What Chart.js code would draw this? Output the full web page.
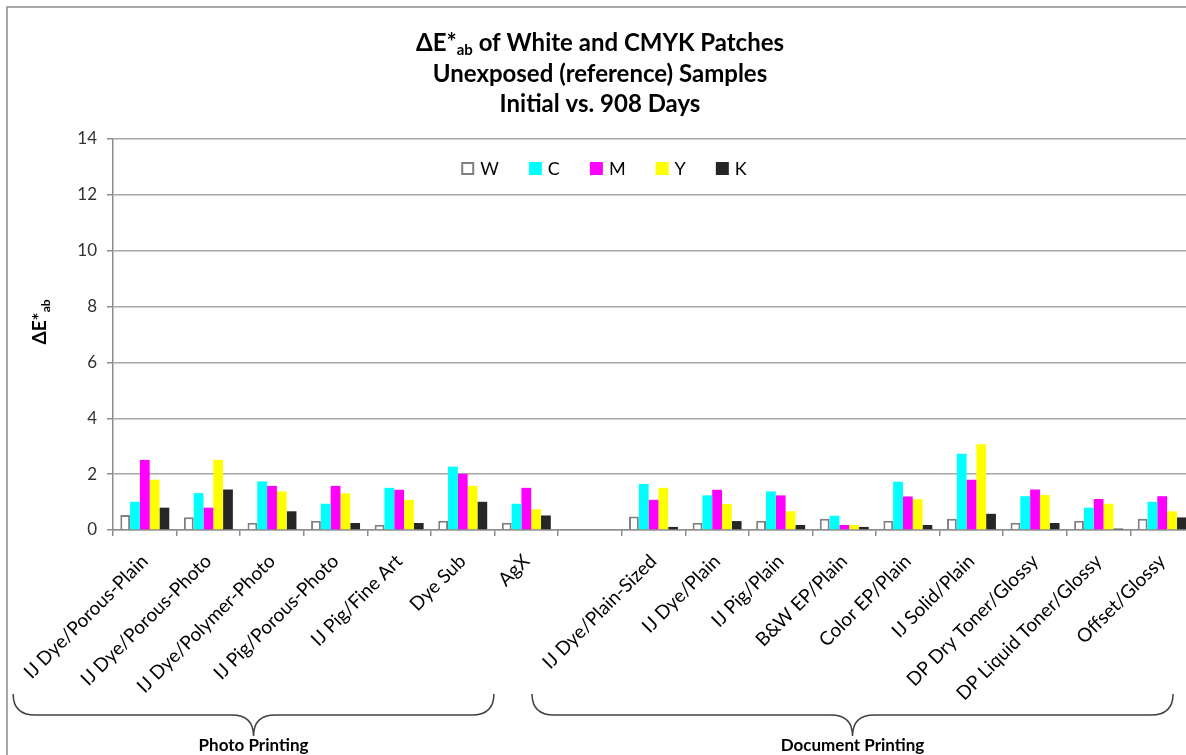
<!DOCTYPE html>
<html>
<head>
<meta charset="utf-8">
<script src="https://cdn.jsdelivr.net/npm/chart.js@4/dist/chart.umd.min.js"></script>
<style>
  html, body { margin: 0; padding: 0; background: #fff; overflow: hidden; }
  #wrap { width: 1200px; height: 755px; }
</style>
</head>
<body>
<div id="wrap"><canvas id="deChart" width="1200" height="755"></canvas></div>
<script>
// categories (empty one is the gap between the two groups)
var categories = ['IJ Dye/Porous-Plain', 'IJ Dye/Porous-Photo', 'IJ Dye/Polymer-Photo', 'IJ Pig/Porous-Photo',
  'IJ Pig/Fine Art', 'Dye Sub', 'AgX', '', 'IJ Dye/Plain-Sized', 'IJ Dye/Plain', 'IJ Pig/Plain',
  'B&W EP/Plain', 'Color EP/Plain', 'IJ Solid/Plain', 'DP Dry Toner/Glossy', 'DP Liquid Toner/Glossy', 'Offset/Glossy'];

var valW = [0.54, 0.46, 0.26, 0.33, 0.19, 0.33, 0.26, null, 0.48, 0.26, 0.33, 0.40, 0.33, 0.40, 0.26, 0.33, 0.40];
var valC = [1.01, 1.32, 1.74, 0.94, 1.51, 2.27, 0.94, null, 1.65, 1.24, 1.38, 0.51, 1.73, 2.73, 1.21, 0.80, 1.01];
var valM = [2.51, 0.80, 1.58, 1.58, 1.44, 2.01, 1.51, null, 1.08, 1.44, 1.24, 0.18, 1.20, 1.80, 1.45, 1.11, 1.21];
var valY = [1.80, 2.51, 1.38, 1.31, 1.08, 1.58, 0.74, null, 1.51, 0.93, 0.67, 0.18, 1.10, 3.07, 1.25, 0.94, 0.67];
var valK = [0.80, 1.45, 0.67, 0.25, 0.25, 1.01, 0.52, null, 0.11, 0.32, 0.18, 0.11, 0.18, 0.58, 0.25, 0.05, 0.45];

var yTicks = [0, 2, 4, 6, 8, 10, 12, 14];

// group braces, in category units (0 = centre of first category)
var groups = [
  { label: 'Photo Printing', from: -2.07, to: 5.49 },
  { label: 'Document Printing', from: 6.09, to: 16.17 }
];

var FONT = 'Lato, "Open Sans", sans-serif';

// text with a subscript part: parts = [[text, isSub], ...]
function partsWidth(ctx, parts, size, subSize) {
  var w = 0;
  parts.forEach(function (p) {
    ctx.font = 'bold ' + (p[1] ? subSize : size) + 'px ' + FONT;
    w += ctx.measureText(p[0]).width;
  });
  return w;
}
function drawParts(ctx, parts, x, y, size, subSize, subDrop) {
  parts.forEach(function (p) {
    ctx.font = 'bold ' + (p[1] ? subSize : size) + 'px ' + FONT;
    ctx.fillText(p[0], x, p[1] ? y + subDrop : y);
    x += ctx.measureText(p[0]).width;
  });
}

var decor = {
  id: 'decor',
  afterDraw: function (chart) {
    var ctx = chart.ctx;
    var xs = chart.scales.x;
    ctx.save();

    // outer border
    ctx.strokeStyle = '#8c8c8c';
    ctx.lineWidth = 1.5;
    ctx.strokeRect(7, 7, 1300, 900);

    // title
    ctx.fillStyle = '#000';
    ctx.textBaseline = 'middle';
    ctx.textAlign = 'left';
    var tSize = 24, cx = 600;
    var line1 = [['\u0394E*', false], ['ab', true], [' of White and CMYK Patches', false]];
    var w1 = partsWidth(ctx, line1, tSize, 15);
    drawParts(ctx, line1, cx - w1 / 2, 43, tSize, 15, 7);
    ctx.textAlign = 'center';
    ctx.font = 'bold ' + tSize + 'px ' + FONT;
    ctx.fillText('Unexposed (reference) Samples', cx, 74);
    ctx.fillText('Initial vs. 908 Days', cx, 104);

    // y axis title
    ctx.save();
    ctx.translate(40, 322);
    ctx.rotate(-Math.PI / 2);
    ctx.textAlign = 'left';
    var yt = [['\u0394E*', false], ['ab', true]];
    var wy = partsWidth(ctx, yt, 19, 12);
    drawParts(ctx, yt, -wy / 2, 0, 19, 12, 6);
    ctx.restore();

    // legend inside the plot
    var items = chart.data.datasets;
    ctx.font = '18px ' + FONT;
    ctx.textAlign = 'left';
    var box = 13, gap = 6, spacing = 30, total = 0;
    items.forEach(function (d, i) {
      total += box + gap + ctx.measureText(d.label).width + (i < items.length - 1 ? spacing : 0);
    });
    var lx = 604 - total / 2, ly = 168.5;
    items.forEach(function (d) {
      ctx.fillStyle = d.backgroundColor;
      ctx.fillRect(lx, ly - box / 2, box, box);
      if (d.borderWidth) {
        ctx.strokeStyle = d.borderColor;
        ctx.lineWidth = 2;
        ctx.strokeRect(lx + 1, ly - box / 2 + 1, box - 2, box - 2);
      }
      ctx.fillStyle = '#000';
      ctx.fillText(d.label, lx + box + gap, ly + 1);
      lx += box + gap + ctx.measureText(d.label).width + spacing;
    });

    // braces under the category labels
    var p0 = xs.getPixelForValue(0), cw = xs.getPixelForValue(1) - p0;
    var yTop = 694, yH = 715, yTip = 736, r = 22;
    ctx.strokeStyle = '#404040';
    ctx.lineWidth = 1.5;
    groups.forEach(function (g) {
      var x0 = p0 + g.from * cw, x1 = p0 + g.to * cw, xm = (x0 + x1) / 2;
      ctx.beginPath();
      ctx.moveTo(x0, yTop);
      ctx.quadraticCurveTo(x0, yH, x0 + r, yH);
      ctx.lineTo(xm - r, yH);
      ctx.quadraticCurveTo(xm, yH, xm, yTip);
      ctx.quadraticCurveTo(xm, yH, xm + r, yH);
      ctx.lineTo(x1 - r, yH);
      ctx.quadraticCurveTo(x1, yH, x1, yTop);
      ctx.stroke();
      ctx.fillStyle = '#000';
      ctx.textAlign = 'center';
      ctx.font = 'bold 17px ' + FONT;
      ctx.fillText(g.label, xm, 746);
    });
    ctx.restore();
  }
};

var context = document.getElementById('deChart').getContext('2d');
var myChart = new Chart(context, {
  type: 'bar',
  data: {
    labels: categories,
    datasets: [
      { label: 'W', data: valW, backgroundColor: '#ffffff', borderColor: '#808080', borderWidth: 2 },
      { label: 'C', data: valC, backgroundColor: '#00ffff', borderWidth: 0 },
      { label: 'M', data: valM, backgroundColor: '#ff00ff', borderWidth: 0 },
      { label: 'Y', data: valY, backgroundColor: '#ffff00', borderWidth: 0 },
      { label: 'K', data: valK, backgroundColor: '#262626', borderWidth: 0 }
    ]
  },
  options: {
    responsive: false,
    animation: false,
    categoryPercentage: 0.77,
    barPercentage: 1.0,
    layout: { padding: { top: 139, right: 6, bottom: 0, left: 0 } },
    plugins: {
      legend: { display: false },
      title: { display: false },
      tooltip: { enabled: false }
    },
    scales: {
      x: {
        afterFit: function (scale) { scale.height = 225; },
        grid: { display: true, drawOnChartArea: false, drawTicks: true, tickLength: 6, offset: true, color: '#8c8c8c', lineWidth: 1.5 },
        border: { color: '#8c8c8c', width: 1.5 },
        ticks: {
          autoSkip: false, maxRotation: 45, minRotation: 45, padding: 14,
          color: '#000', font: { family: FONT, size: 19 }
        }
      },
      y: {
        min: 0,
        max: 14,
        afterFit: function (scale) { scale.width = 113; },
        afterBuildTicks: function (scale) { scale.ticks = yTicks.map(function (v) { return { value: v }; }); },
        grid: { color: '#a6a6a6', lineWidth: 1.5, tickLength: 6, tickColor: '#8c8c8c' },
        border: { color: '#8c8c8c', width: 1.5 },
        ticks: { padding: 10, color: '#333', font: { family: FONT, size: 17 } }
      }
    }
  },
  plugins: [decor]
});
</script>
</body>
</html>
